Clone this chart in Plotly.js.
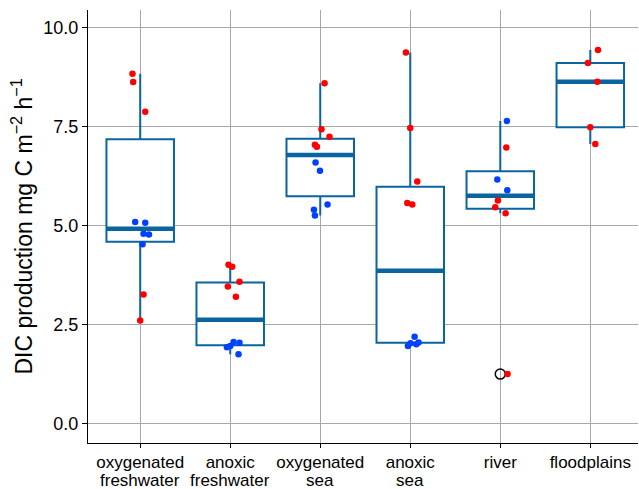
<!DOCTYPE html>
<html>
<head>
<meta charset="utf-8">
<script src="https://cdn.plot.ly/plotly-3.0.1.min.js"></script>
<style>html,body{margin:0;padding:0;background:#fff;}#chart{width:639px;height:489px;}</style>
</head>
<body>
<div id="chart"></div>
<script>
// Categories and tick labels
const categories = ["oxygenated<br>freshwater", "anoxic<br>freshwater", "oxygenated<br>sea", "anoxic<br>sea", "river", "floodplains"];
const yTickVals = [0, 2.5, 5, 7.5, 10];
const yTickText = ["0.0", "2.5", "5.0", "7.5", "10.0"];

// Box statistics
const q1Vals     = [4.60, 1.99, 5.75, 2.05, 5.43, 7.49];
const medianVals = [4.93, 2.63, 6.79, 3.87, 5.76, 8.64];
const q3Vals     = [7.19, 3.57, 7.20, 5.99, 6.38, 9.11];
const lowerVals  = [2.59, 1.76, 5.26, 1.97, 5.32, 7.07];
const upperVals  = [8.84, 4.01, 8.60, 9.38, 7.65, 9.44];

// Outliers
const outlierCat = [4];
const outlierVal = [1.26];

// Red points: category index, value, horizontal jitter
const redCat = [0,0,0,0,0, 1,1,1,1,1, 2,2,2,2,2, 3,3,3,3,3, 4,4,4,4,4, 5,5,5,5,5];
const redVal = [8.84,8.63,7.88,3.27,2.61, 4.02,3.97,3.59,3.47,3.21, 8.60,7.44,7.25,7.05,7.00, 9.38,7.47,6.12,5.58,5.54, 6.98,5.64,5.47,5.32,1.26, 9.44,9.11,8.64,7.49,7.07];
const redJit = [-0.086,-0.078,0.056,0.037,0.0, -0.019,0.022,0.103,-0.026,0.063, 0.048,0.014,0.103,-0.059,-0.037, -0.048,0.0,0.078,-0.033,0.022, 0.067,-0.026,-0.056,0.059,0.081, 0.086,-0.026,0.078,0.0,0.056];

// Blue points
const blueCat = [0,0,0,0,0, 1,1,1,1,1, 2,2,2,2,2, 3,3,3,3,3, 4,4,4];
const blueVal = [5.10,5.08,4.80,4.78,4.54, 2.07,2.05,1.97,1.94,1.76, 6.60,6.39,5.54,5.41,5.26, 2.20,2.06,2.01,2.04,1.97, 7.65,6.17,5.90];
const blueJit = [-0.056,0.056,0.037,0.097,0.026, 0.037,0.103,0.0,-0.037,0.092, -0.052,-0.003,0.081,-0.070,-0.059, 0.048,0.092,0.067,0.003,-0.026, 0.074,-0.033,0.078];

const boxColor = "#0a64a0";
const boxWidth = 0.75;
const idx = categories.map((c, i) => i);
const fam = "Liberation Sans, Arial, sans-serif";
const xFontSize = 17;

const boxTrace = {
  type: "box",
  x: idx,
  q1: q1Vals,
  median: medianVals,
  q3: q3Vals,
  lowerfence: lowerVals,
  upperfence: upperVals,
  width: boxWidth,
  whiskerwidth: 0,
  boxpoints: false,
  fillcolor: "#ffffff",
  line: {color: boxColor, width: 2},
  hoverinfo: "skip",
  showlegend: false
};

// thicker median segments
const medX = [], medY = [];
idx.forEach(i => {
  medX.push(i - boxWidth / 2, i + boxWidth / 2, null);
  medY.push(medianVals[i], medianVals[i], null);
});
const medTrace = {
  type: "scatter", mode: "lines", x: medX, y: medY,
  line: {color: boxColor, width: 4.5}, hoverinfo: "skip", showlegend: false
};

const outTrace = {
  type: "scatter", mode: "markers",
  x: outlierCat, y: outlierVal,
  marker: {symbol: "circle-open", size: 10, color: "#000", line: {width: 1.5, color: "#000"}},
  showlegend: false
};

const redTrace = {
  type: "scatter", mode: "markers",
  x: redCat.map((c, i) => c + redJit[i]), y: redVal,
  marker: {color: "#ff0000", size: 6.5},
  showlegend: false
};
const blueTrace = {
  type: "scatter", mode: "markers",
  x: blueCat.map((c, i) => c + blueJit[i]), y: blueVal,
  marker: {color: "#0040ff", size: 6.5},
  showlegend: false
};

// split category labels into two lines: first line as tick label, second as annotation (tighter line spacing)
const line1 = categories.map(c => c.split("<br>")[0]);
const line2 = categories.map(c => c.split("<br>")[1] || "");
const annotations = [];
idx.forEach(i => {
  if (line2[i]) {
    annotations.push({
      x: i, xref: "x", y: 0, yref: "paper", yanchor: "top", xanchor: "center",
      yshift: -27, showarrow: false, text: line2[i], borderpad: 0,
      font: {family: fam, size: xFontSize, color: "#000"}
    });
  }
});

const layout = {
  width: 639, height: 489,
  margin: {l: 88, r: 1, t: 10, b: 46},
  paper_bgcolor: "#fff", plot_bgcolor: "#fff",
  showlegend: false,
  font: {family: fam, color: "#000"},
  annotations: annotations,
  xaxis: {
    range: [-0.58, 5.53],
    tickvals: idx, ticktext: line1,
    tickfont: {family: fam, size: xFontSize, color: "#000"},
    showgrid: true, gridcolor: "#a8a8a8", gridwidth: 1,
    showline: true, linecolor: "#000", linewidth: 1,
    ticks: "outside", ticklen: 4, tickcolor: "#000",
    zeroline: false
  },
  yaxis: {
    range: [-0.48, 10.45],
    tickvals: yTickVals, ticktext: yTickText,
    tickfont: {family: fam, size: 18, color: "#000"},
    showgrid: true, gridcolor: "#a8a8a8", gridwidth: 1,
    showline: true, linecolor: "#000", linewidth: 1,
    ticks: "outside", ticklen: 5, tickcolor: "#000",
    zeroline: false,
    title: {text: "DIC production mg C m<sup>\u22122</sup> h<sup>\u22121</sup>", font: {family: fam, size: 23, color: "#000"}, standoff: 4}
  }
};

Plotly.newPlot("chart", [boxTrace, medTrace, outTrace, redTrace, blueTrace], layout, {displayModeBar: false, staticPlot: true});
</script>
</body>
</html>
